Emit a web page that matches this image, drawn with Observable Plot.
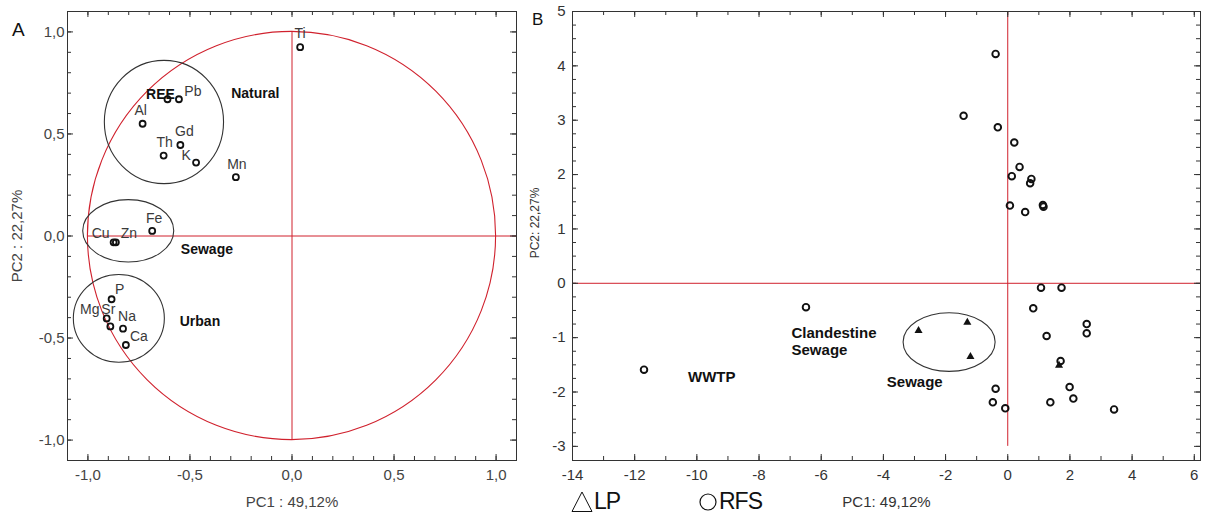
<!DOCTYPE html>
<html><head><meta charset="utf-8">
<script src="https://cdn.jsdelivr.net/npm/d3@7"></script>
<script src="https://cdn.jsdelivr.net/npm/@observablehq/plot@0.6"></script>
<style>
body{margin:0;background:#fff;}
#wrap{position:relative;width:1205px;height:513px;font-family:"Liberation Sans",Arial,sans-serif;overflow:hidden;}
.panel{position:absolute;top:0;}
.legend{position:absolute;top:491px;height:20px;font-family:"Liberation Sans",Arial,sans-serif;font-size:23px;line-height:18px;letter-spacing:-1px;color:#111;display:flex;align-items:center;}
.legend span{margin-left:1px;}
.plbl{position:absolute;color:#111;}
</style></head><body>
<div id="wrap">
  <div class="panel" id="pa" style="left:0"></div>
  <div class="panel" id="pb" style="left:520px"></div>
  <div class="plbl" style="left:12px;top:19px;font-size:19px">A</div>
  <div class="plbl" style="left:532px;top:10px;font-size:17px">B</div>
  <div class="legend" style="left:571px"><svg width="22" height="21"><polygon points="11,1 21,20.5 1,20.5" fill="none" stroke="#111" stroke-width="1"/></svg><span>LP</span></div>
  <div class="legend" style="left:698px"><svg width="20" height="20"><circle cx="10" cy="11" r="8" fill="none" stroke="#111" stroke-width="1.2"/></svg><span>RFS</span></div>
</div>
<script>
// ---------- Panel A: variable loadings ----------
const aNames = ["Ti","REE","Pb","Al","Gd","Th","K","Mn","Fe","Cu","Zn","P","Mg","Sr","Na","Ca"];
const aPC1 = [0.04,-0.61,-0.554,-0.732,-0.547,-0.629,-0.47,-0.275,-0.685,-0.874,-0.863,-0.884,-0.908,-0.89,-0.828,-0.814];
const aPC2 = [0.925,0.67,0.67,0.55,0.446,0.394,0.36,0.288,0.025,-0.031,-0.031,-0.31,-0.404,-0.443,-0.454,-0.534];
const aTicks = [-1, -0.5, 0, 0.5, 1];
const aGroupNames = ["Natural","Sewage","Urban"];
const aGroupLabelX = [-0.18,-0.417,-0.451];
const aGroupLabelY = [0.70,-0.064,-0.417];
const aGroupCx = [-0.625,-0.80,-0.846];
const aGroupCy = [0.556,0.023,-0.406];
const aGroupRx = [0.292,0.223,0.223];
const aGroupRy = [0.302,0.153,0.215];
const unitCircle = [{cx:0, cy:0, rx:1, ry:1}];
const aXLabel = "PC1 : 49,12%";
const aYLabel = "PC2 : 22,27%";

// ---------- Panel B: sample scores ----------
const rfsPC1 = [-0.39,-1.42,-0.32,0.21,0.38,0.13,0.76,0.72,0.07,0.56,1.13,1.15,1.07,1.73,-6.49,0.82,2.54,2.54,1.25,1.70,-11.70,1.99,-0.39,2.11,-0.48,1.37,-0.08,3.42];
const rfsPC2 = [4.22,3.08,2.87,2.59,2.14,1.97,1.92,1.84,1.43,1.31,1.44,1.41,-0.08,-0.08,-0.44,-0.46,-0.75,-0.92,-0.97,-1.43,-1.59,-1.91,-1.94,-2.12,-2.19,-2.19,-2.30,-2.32];
const lpPC1 = [-2.87,-1.30,-1.20,1.65];
const lpPC2 = [-0.87,-0.72,-1.35,-1.51];
const bXTicks = [-14,-12,-10,-8,-6,-4,-2,0,2,4,6];
const bYTicks = [-3,-2,-1,0,1,2,3,4,5];
const bLeftLabels = ["Clandestine\nSewage"];
const bLeftLabelX = [-6.955];
const bLeftLabelY = [-1.06];
const bGroupNames = ["WWTP","Sewage"];
const bGroupLabelX = [-9.52,-2.99];
const bGroupLabelY = [-1.73,-1.82];
const bEllipse = [{cx:-1.87, cy:-1.09, rx:1.48, ry:0.54}];
const bXLabel = "PC1: 49,12%";
const bYLabel = "PC2: 22,27%";

const red = "#d0212d";
const ink = "#111";
const fmtA = v => v.toFixed(1).replace(".", ",");
const fmtB = v => String(v);

function ellipseMark(list, stroke, sw) {
  return (index, scales) => {
    const g = d3.create("svg:g");
    for (const e of list) {
      const cx = scales.x(e.cx), cy = scales.y(e.cy);
      g.append("ellipse").attr("cx", cx).attr("cy", cy)
        .attr("rx", Math.abs(scales.x(e.cx + e.rx) - cx))
        .attr("ry", Math.abs(scales.y(e.cy + e.ry) - cy))
        .attr("fill", "none").attr("stroke", stroke).attr("stroke-width", sw);
    }
    return g.node();
  };
}
function frameTicks(xs, ys, fw, fh, len) {
  return [
    Plot.ruleX(xs, {insetBottom: fh - len, stroke: "#333"}),
    Plot.ruleX(xs, {insetTop: fh - len, stroke: "#333"}),
    Plot.ruleY(ys, {insetRight: fw - len, stroke: "#333"}),
    Plot.ruleY(ys, {insetLeft: fw - len, stroke: "#333"})
  ];
}

const aData = aNames.map((n, i) => ({name: n, pc1: aPC1[i], pc2: aPC2[i]}));
const aGroups = aGroupNames.map((n, i) => ({name: n, x: aGroupLabelX[i], y: aGroupLabelY[i]}));
const aEll = aGroupCx.map((c, i) => ({cx: c, cy: aGroupCy[i], rx: aGroupRx[i], ry: aGroupRy[i]}));
const labelOffsetA = {Ti:[0,-14], REE:[-7,-5], Pb:[14,-8], Al:[-2,-13], Gd:[4,-13], Th:[1,-13], K:[-10,-7], Mn:[1,-13], Fe:[2,-12], Cu:[-13,-9], Zn:[13,-9], P:[8,-10], Mg:[-17,-9], Sr:[-2,-17], Na:[4,-12], Ca:[13,-8]};

const A = {w: 520, h: 513, ml: 67, mr: 4, mt: 11, mb: 53};
const aFW = A.w - A.ml - A.mr, aFH = A.h - A.mt - A.mb;
const aMinor = d3.range(-10, 11).map(i => i / 10);

const plotA = Plot.plot({
  width: A.w, height: A.h, marginLeft: A.ml, marginRight: A.mr, marginTop: A.mt, marginBottom: A.mb,
  style: {fontFamily: '"Liberation Sans", Arial, sans-serif', background: "#fff"},
  x: {domain: [-1.1, 1.1]},
  y: {domain: [-1.1, 1.1]},
  marks: [
    Plot.ruleX([0], {y1: -1, y2: 1, stroke: red, strokeWidth: 1}),
    Plot.ruleY([0], {x1: -1, x2: 1.1, stroke: red, strokeWidth: 1}),
    ellipseMark(unitCircle, red, 1.1),
    ellipseMark(aEll, "#333", 1.1),
    ...frameTicks(aMinor, aMinor, aFW, aFH, 4),
    ...frameTicks(aTicks, aTicks, aFW, aFH, 6),
    Plot.frame({stroke: "#333"}),
    Plot.axisX(aTicks, {anchor: "bottom", tickSize: 0, tickPadding: 9, tickFormat: fmtA, fontSize: 15, fill: "#444", label: null}),
    Plot.axisY(aTicks, {anchor: "left", tickSize: 0, tickPadding: 3, tickFormat: fmtA, fontSize: 15, fill: "#444", label: null}),
    Plot.dot(aData, {x: "pc1", y: "pc2", r: 3, stroke: ink, strokeWidth: 1.8, fill: "none"}),
    ...aData.map(d => Plot.text([d], {x: "pc1", y: "pc2", text: "name", dx: labelOffsetA[d.name][0], dy: labelOffsetA[d.name][1],
      fontSize: 14, fill: d.name === "REE" ? ink : "#3a3a3a", fontWeight: d.name === "REE" ? "bold" : "normal"})),
    Plot.text(aGroups, {x: "x", y: "y", text: "name", fontSize: 14, fontWeight: "bold", fill: ink}),
    Plot.text([aXLabel], {frameAnchor: "bottom", textAnchor: "middle", lineAnchor: "middle", dy: 42, fontSize: 15, fill: "#444"}),
    Plot.text([aYLabel], {frameAnchor: "left", textAnchor: "middle", lineAnchor: "middle", dx: -50, rotate: -90, fontSize: 15, fill: "#444"})
  ]
});
document.getElementById("pa").appendChild(plotA);

// ---------- Panel B ----------
const rfs = rfsPC1.map((v, i) => ({pc1: v, pc2: rfsPC2[i]}));
const lp = lpPC1.map((v, i) => ({pc1: v, pc2: lpPC2[i]}));
const bGroups = bGroupNames.map((n, i) => ({name: n, x: bGroupLabelX[i], y: bGroupLabelY[i]}));
const bLeft = bLeftLabels.map((n, i) => ({name: n, x: bLeftLabelX[i], y: bLeftLabelY[i]}));
const B = {w: 685, h: 513, ml: 52, mr: 5, mt: 11, mb: 53};
const bFW = B.w - B.ml - B.mr, bFH = B.h - B.mt - B.mb;
const bXMinor = d3.range(-14, 7);
const bYMinor = d3.range(-12, 21).map(i => i / 4);

const plotB = Plot.plot({
  width: B.w, height: B.h, marginLeft: B.ml, marginRight: B.mr, marginTop: B.mt, marginBottom: B.mb,
  style: {fontFamily: '"Liberation Sans", Arial, sans-serif', background: "#fff"},
  x: {domain: [-14, 6.2]},
  y: {domain: [-3.26, 5]},
  marks: [
    Plot.ruleX([0], {y1: -3, y2: 5, stroke: red, strokeWidth: 1}),
    Plot.ruleY([0], {x1: -14, x2: 6.2, stroke: red, strokeWidth: 1}),
    ellipseMark(bEllipse, "#333", 1.1),
    ...frameTicks(bXMinor, bYMinor, bFW, bFH, 4),
    ...frameTicks(bXTicks, bYTicks, bFW, bFH, 6),
    Plot.frame({stroke: "#333"}),
    Plot.axisX(bXTicks, {anchor: "bottom", tickSize: 0, tickPadding: 9, tickFormat: fmtB, fontSize: 15, fill: "#333", label: null}),
    Plot.axisY(bYTicks, {anchor: "left", tickSize: 0, tickPadding: 7, tickFormat: fmtB, fontSize: 15, fill: "#333", label: null}),
    Plot.dot(rfs, {x: "pc1", y: "pc2", r: 3.3, stroke: ink, strokeWidth: 1.9, fill: "none"}),
    Plot.dot(lp, {x: "pc1", y: "pc2", symbol: "triangle", r: 3, fill: ink}),
    Plot.text(bLeft, {x: "x", y: "y", text: "name", fontSize: 15, fontWeight: "bold", fill: ink, textAnchor: "start", lineHeight: 1.15}),
    Plot.text(bGroups, {x: "x", y: "y", text: "name", fontSize: 15, fontWeight: "bold", fill: ink}),
    Plot.text([bXLabel], {frameAnchor: "bottom", textAnchor: "middle", lineAnchor: "middle", dy: 42, fontSize: 15, fill: "#333"}),
    Plot.text([bYLabel], {frameAnchor: "left", textAnchor: "middle", lineAnchor: "middle", dx: -37, dy: -13, rotate: -90, fontSize: 12, fill: "#333"})
  ]
});
document.getElementById("pb").appendChild(plotB);
</script>
</body></html>
